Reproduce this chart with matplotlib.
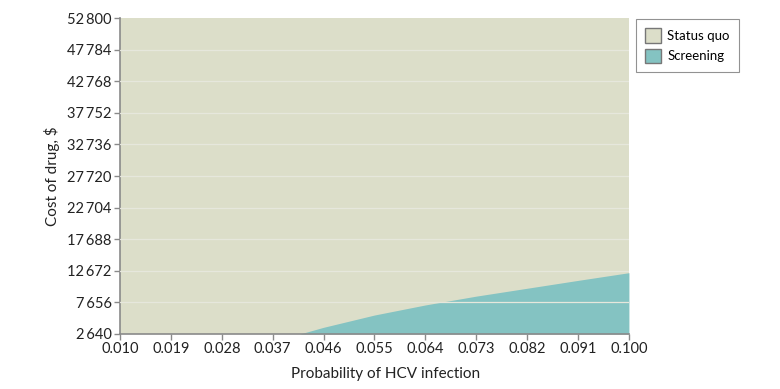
import matplotlib.pyplot as plt
from matplotlib.patches import Patch
import numpy as np

plt.rcParams['font.family'] = ['Lato', 'DejaVu Sans']

# probabilidad de infeccion vs umbral de costo del farmaco
prob = [0.0418, 0.046, 0.055, 0.064, 0.073, 0.082, 0.091, 0.100]
costo_umbral = [2640, 3700, 5650, 7250, 8650, 9900, 11150, 12370]

x_ticks = [0.010, 0.019, 0.028, 0.037, 0.046, 0.055, 0.064, 0.073, 0.082, 0.091, 0.100]
y_ticks = [2640, 7656, 12672, 17688, 22704, 27720, 32736, 37752, 42768, 47784, 52800]

color_sq = '#dcdec9'
color_scr = '#84c3c2'
gris = '#8a8a8a'

fig = plt.figure(figsize=(7.8, 3.89), dpi=100)
ax = fig.add_axes([0.1538, 0.1414, 0.6525, 0.8123])

ax.set_xlim(0.010, 0.100)
ax.set_ylim(2640, 52800)
ax.set_facecolor(color_sq)

ax.fill_between(prob, 2640, costo_umbral, color=color_scr, lw=0, zorder=2)

for yv in y_ticks[1:-1]:
    ax.axhline(yv, color='#e6e7dc', lw=0.9, zorder=3)

ax.set_xticks(x_ticks)
ax.set_xticklabels(['%.3f' % v for v in x_ticks])
ax.set_yticks(y_ticks)
ax.set_yticklabels([('{:,}'.format(v)).replace(',', '\u2009') for v in y_ticks])
ax.tick_params(colors=gris, labelcolor='#222222', labelsize=10.5, length=4, width=1, pad=2)

for s in ['top', 'right']:
    ax.spines[s].set_visible(False)
for s in ['left', 'bottom']:
    ax.spines[s].set_color(gris)
    ax.spines[s].set_linewidth(1.2)

ax.set_xlabel('Probability of HCV infection', fontsize=11, color='#222222')
ax.xaxis.label.set_horizontalalignment('left')
ax.xaxis.set_label_coords(0.337, -0.105)
ax.set_ylabel('Cost of drug, $', fontsize=11, color='#222222')
ax.yaxis.set_label_coords(-0.118, 0.5)

handles = [Patch(facecolor=color_sq, edgecolor='#777777', label='Status quo'),
           Patch(facecolor=color_scr, edgecolor='#777777', label='Screening')]
leg = fig.legend(handles=handles, loc='upper left', bbox_to_anchor=(0.815, 0.951),
                 frameon=True, fancybox=False, fontsize=9.5, handlelength=1.21,
                 handleheight=1.3, handletextpad=0.5, borderpad=0.7, labelspacing=0.45,
                 borderaxespad=0)
leg.get_frame().set_edgecolor('#777777')
leg.get_frame().set_linewidth(0.8)

fig.savefig('out.png', dpi=100)
